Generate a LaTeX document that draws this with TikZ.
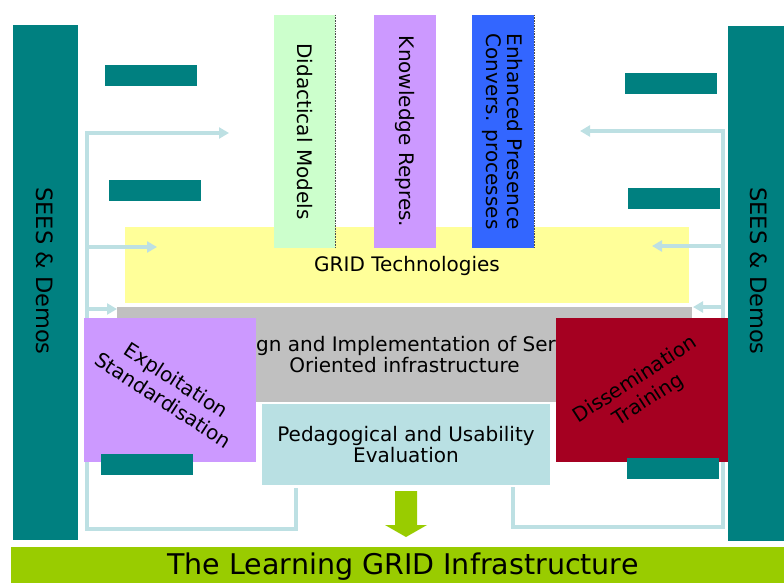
\documentclass[tikz,border=0pt]{standalone}
\usepackage{fontspec}
\setmainfont{DejaVu Sans}
\usetikzlibrary{arrows.meta}
\definecolor{tealc}{HTML}{008080}
\definecolor{yelc}{HTML}{FFFF99}
\definecolor{gryc}{HTML}{C0C0C0}
\definecolor{purc}{HTML}{CC99FF}
\definecolor{redc}{HTML}{A50021}
\definecolor{pedc}{HTML}{B9E0E3}
\definecolor{dgrc}{HTML}{CCFFCC}
\definecolor{bluc}{HTML}{3366FF}
\definecolor{grnc}{HTML}{99CC00}
\definecolor{arrc}{HTML}{BDE0E3}
\tikzset{
  blk/.style={rectangle, inner sep=0pt, outer sep=0pt, draw=none, align=center,
    font=\fontsize{20}{21}\selectfont},
  lbl/.style={inner sep=0pt, outer sep=0pt, align=center, font=\fontsize{20}{22}\selectfont},
  conn/.style={draw=arrc, line width=4pt, line join=miter},
  tipc/.style={conn, -{Triangle[length=10pt,width=11pt]}},
  edgec/.style={draw=black!70, line width=0.6pt, densely dotted}
}
\begin{document}
\begin{tikzpicture}[x=1pt,y=-1pt]
\useasboundingbox (0,0) rectangle (784,583);
% side bars
\node[blk, fill=tealc, minimum width=65pt, minimum height=515pt] (sl) at (45.5,282.5) {};
\node[blk, fill=tealc, minimum width=56pt, minimum height=515pt] (sr) at (756,283.5) {};
\node[lbl, rotate=-90, font=\fontsize{22.5}{24}\selectfont] (slt) at (45,271) {SEES \& Demos};
\node[lbl, rotate=-90, font=\fontsize{22.5}{24}\selectfont] (srt) at (759,271) {SEES \& Demos};
% small teal rectangles
\node[blk, fill=tealc, minimum width=92pt, minimum height=21pt] (t1) at (151,75.5) {};
\node[blk, fill=tealc, minimum width=92pt, minimum height=21pt] (t2) at (155,190.5) {};
\node[blk, fill=tealc, minimum width=92pt, minimum height=21pt] (t3) at (671,83.5) {};
\node[blk, fill=tealc, minimum width=92pt, minimum height=21pt] (t4) at (674,198.5) {};
% GRID technologies
\node[blk, fill=yelc, minimum width=564pt, minimum height=76pt] (gt) at (407,265) {};
\node[lbl] (gtt) at (407,266) {GRID Technologies};
% columns
\node[blk, fill=dgrc, rotate=-90, minimum width=233pt, minimum height=61pt] (dm) at (304.5,131.5) {Didactical Models};
\draw[edgec] (335,15) -- (335,248);
\node[blk, fill=purc, rotate=-90, minimum width=233pt, minimum height=62pt] (kr) at (405,131.5) {Knowledge Repres.};
\node[blk, fill=bluc, rotate=-90, minimum width=233pt, minimum height=62pt] (ep) at (503,131.5) {Enhanced Presence\\Convers. processes};
\draw[edgec] (534,15) -- (534,248);
% design and implementation
\node[blk, fill=gryc, minimum width=575pt, minimum height=95pt] (gs) at (404.5,354.5) {Design and Implementation of Service\\Oriented infrastructure};
% connectors
\coordinate (la) at (296,488);
\coordinate (lb) at (87,529);
\coordinate (lt) at (229,133);
\coordinate (l2a) at (87,247);
\coordinate (l2b) at (157,247);
\coordinate (l3a) at (87,309);
\coordinate (l3b) at (117,309);
\coordinate (ra) at (513,487);
\coordinate (rb) at (723,527);
\coordinate (rt) at (580,131);
\coordinate (r2a) at (723,246);
\coordinate (r2b) at (652,246);
\coordinate (r3a) at (723,307);
\coordinate (r3b) at (693,307);
\draw[tipc] (la) |- (lb) |- (lt);
\draw[tipc] (l2a) -- (l2b);
\draw[tipc] (l3a) -- (l3b);
\draw[tipc] (ra) |- (rb) |- (rt);
\draw[tipc] (r2a) -- (r2b);
\draw[tipc] (r3a) -- (r3b);
% pedagogical
\node[blk, fill=pedc, minimum width=288pt, minimum height=81pt] (pe) at (406,444.5) {Pedagogical and Usability\\Evaluation};
% exploitation and dissemination
\node[blk, fill=purc, minimum width=172pt, minimum height=144pt] (ex) at (170,390) {};
\node[lbl, rotate=-33, font=\fontsize{20}{24}\selectfont] (ext) at (ex.center) {Exploitation\\Standardisation};
\node[blk, fill=redc, minimum width=172pt, minimum height=144pt] (ds) at (642,390) {};
\node[lbl, rotate=33, font=\fontsize{20}{24}\selectfont] (dst) at (ds.center) {Dissemination\\Training};
\node[blk, fill=tealc, minimum width=92pt, minimum height=21pt] (t5) at (147,464.5) {};
\node[blk, fill=tealc, minimum width=92pt, minimum height=21pt] (t6) at (673,468.5) {};
% down arrow
\fill[grnc] (395,491) -- (417,491) -- (417,525) -- (427,525) -- (406,537) -- (385,525) -- (395,525) -- cycle;
% bottom bar
\node[blk, fill=grnc, minimum width=773pt, minimum height=36pt] (lg) at (397.5,565) {};
\node[lbl, font=\fontsize{28.5}{30}\selectfont] (lgt) at (403,567) {The Learning GRID Infrastructure};
\end{tikzpicture}
\end{document}
